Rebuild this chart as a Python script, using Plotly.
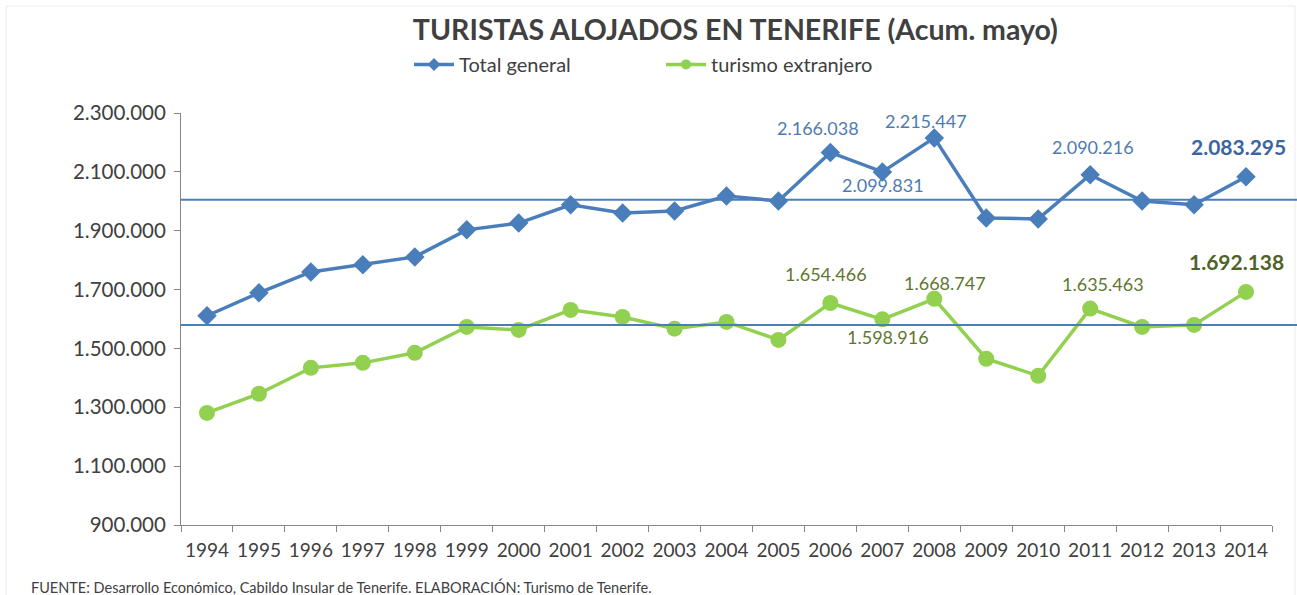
import plotly.graph_objects as go

years = [str(y) for y in range(1994, 2015)]
total_general = [1611000, 1689000, 1760000, 1784000, 1811000, 1903000, 1926000, 1988000,
                 1960000, 1967000, 2018000, 2001000, 2166038, 2099831, 2215447, 1943000,
                 1940000, 2090216, 2001000, 1988000, 2083295]
turismo_extranjero = [1281000, 1346000, 1434000, 1451000, 1485000, 1573000, 1563000, 1631000,
                      1607000, 1567000, 1590000, 1529000, 1654466, 1598916, 1668747, 1465000,
                      1407000, 1635463, 1573000, 1580000, 1692138]
ref_lines = [2005000, 1580000]
y_ticks = [900000, 1100000, 1300000, 1500000, 1700000, 1900000, 2100000, 2300000]
y_tick_labels = ["900.000", "1.100.000", "1.300.000", "1.500.000", "1.700.000",
                 "1.900.000", "2.100.000", "2.300.000"]
title = "TURISTAS ALOJADOS EN TENERIFE (Acum. mayo)"
footer = "FUENTE: Desarrollo Económico, Cabildo Insular de Tenerife. ELABORACIÓN: Turismo de Tenerife."

# labelled points: (year index, dx, dy, bold)
blue_labels = [(12, -12, -24, False), (13, 1, 13, False), (14, -8, -17, False),
               (17, 3, -28, False), (20, -8, -30, True)]
green_labels = [(12, -4, -29, False), (13, 6, 18, False), (14, 11, -16, False),
                (17, 13, -25, False), (20, -10, -30, True)]

FONT = "Lato, 'Open Sans', sans-serif"
BLUE = "#4A7EBB"
GREEN = "#92D050"

fig = go.Figure()
fig.add_trace(go.Scatter(
    x=years, y=total_general, name="Total general", mode="lines+markers",
    line=dict(color=BLUE, width=3.5), showlegend=False,
    marker=dict(symbol="diamond", size=15, color=BLUE)))
fig.add_trace(go.Scatter(
    x=years, y=turismo_extranjero, name="turismo extranjero", mode="lines+markers",
    line=dict(color=GREEN, width=3.5), showlegend=False,
    marker=dict(symbol="circle", size=16, color=GREEN)))
# legend entries (smaller symbols like the original)
fig.add_trace(go.Scatter(
    x=[None], y=[None], name="Total general", mode="lines+markers",
    line=dict(color=BLUE, width=3.5), marker=dict(symbol="diamond", size=10, color=BLUE)))
fig.add_trace(go.Scatter(
    x=[None], y=[None], name="turismo extranjero", mode="lines+markers",
    line=dict(color=GREEN, width=3.5), marker=dict(symbol="circle", size=10, color=GREEN)))

def fmt(v):
    return f"{v:,}".replace(",", ".")

annotations = []
for series, labels, c_norm, c_bold in [(total_general, blue_labels, "#4F7BB0", "#3B64A0"),
                                       (turismo_extranjero, green_labels, "#5F7733", "#4F6228")]:
    for i, dx, dy, bold in labels:
        v = series[i]
        annotations.append(dict(
            x=i, y=v, xref="x", yref="y", showarrow=False,
            text=f"<b>{fmt(v)}</b>" if bold else fmt(v),
            xshift=dx, yshift=-dy,
            font=dict(family=FONT, size=21 if bold else 18, color=c_bold if bold else c_norm)))

annotations.append(dict(
    x=-0.139, y=-0.1505, xref="paper", yref="paper", xanchor="left", yanchor="middle",
    text=footer, showarrow=False,
    font=dict(family=FONT, size=14.5, color="#404040")))

shapes = []
for v in ref_lines:
    shapes.append(dict(type="line", xref="paper", yref="y", x0=0, x1=1.023, y0=v, y1=v,
                       line=dict(color="#4A7EBB", width=2)))
shapes.append(dict(type="rect", xref="paper", yref="paper", x0=-0.1604, x1=1.0211,
                   y0=-0.3, y1=1.2597, line=dict(color="#EBEBEB", width=1), layer="below"))

fig.update_layout(
    width=1297, height=595,
    margin=dict(l=181, r=25, t=113, b=70),
    paper_bgcolor="white", plot_bgcolor="white",
    title=dict(text=f"<b>{title}</b>", x=0.567, xanchor="center", y=0.95, yanchor="middle",
               font=dict(family=FONT, size=28.5, color="#404040")),
    legend=dict(orientation="h", x=0.209, xanchor="left", y=1.118, yanchor="middle",
                font=dict(family=FONT, size=20, color="#404040"),
                entrywidth=197, entrywidthmode="pixels", itemwidth=40,
                bgcolor="rgba(0,0,0,0)"),
    xaxis=dict(type="category", range=[-0.5, 20.5], showgrid=False,
               showline=True, linecolor="#868686", linewidth=1,
               ticks="outside", tickson="boundaries", ticklen=6, tickcolor="#868686",
               tickangle=0, ticklabelstandoff=8,
               tickfont=dict(family=FONT, size=19, color="#404040")),
    yaxis=dict(range=[900000, 2300000], showgrid=False, zeroline=False,
               showline=True, linecolor="#868686", linewidth=1,
               ticks="outside", ticklen=6, tickcolor="#868686", ticklabelstandoff=4,
               tickvals=y_ticks, ticktext=y_tick_labels,
               tickfont=dict(family=FONT, size=20.5, color="#404040")),
    annotations=annotations, shapes=shapes, showlegend=True,
)

fig.write_html("out.html", config={"displayModeBar": False},
               post_script="document.body.style.margin='0';")
